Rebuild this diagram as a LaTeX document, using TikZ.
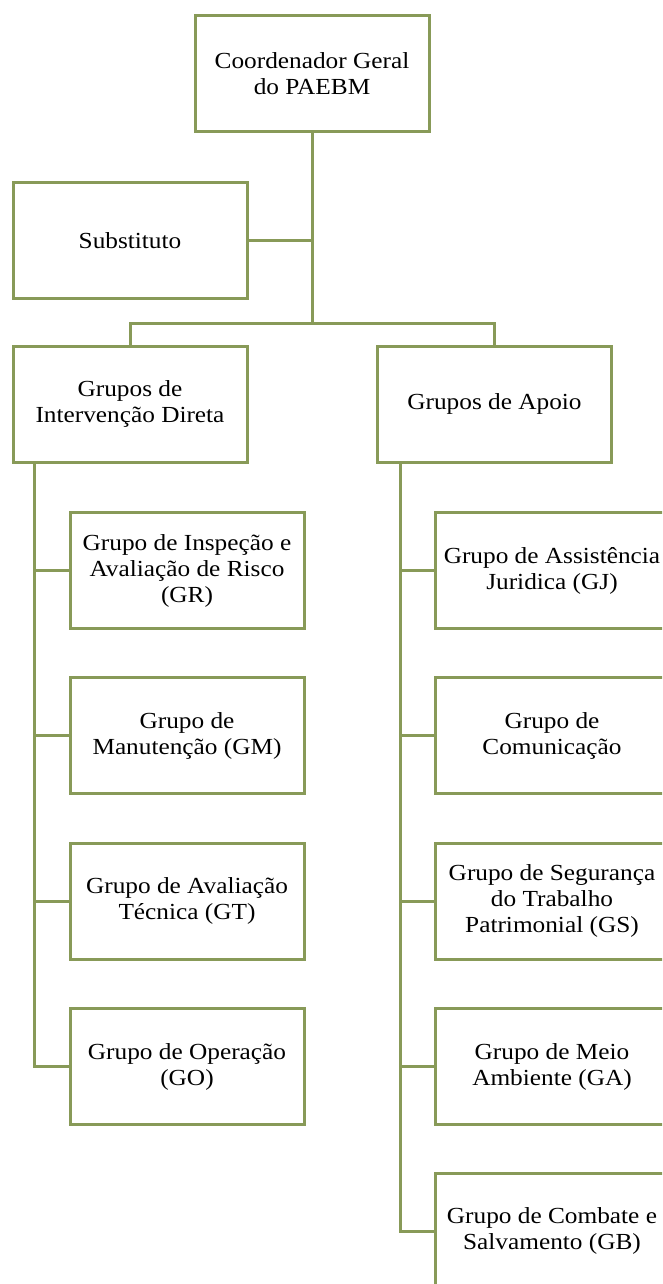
\documentclass[tikz,border=0pt]{standalone}
\usepackage{fontspec}
\setmainfont{Liberation Serif}[FakeStretch=1.1]
\definecolor{olive}{HTML}{889A58}
\begin{document}
\begin{tikzpicture}[x=1pt,y=-1pt,
  box/.style={draw=olive,line width=3pt,fill=white,minimum width=234pt,minimum height=116pt,
    align=center,inner sep=0pt,font=\fontsize{23}{26}\selectfont},
  conn/.style={draw=olive,line width=3pt}]
\clip (0,0) rectangle (662,1284);
\fill[white] (0,0) rectangle (662,1284);
% top level
\node[box] (coord) at (312,74) {Coordenador Geral\\do PAEBM};
\node[box] (subst) at (130,240.5) {Substituto};
\node[box] (gid) at (130,404) {Grupos de\\Intervenção Direta};
\node[box] (gap) at (494.5,404) {Grupos de Apoio};
% left children
\node[box] (gr) at (187,570.5) {Grupo de Inspeção e\\Avaliação de Risco\\(GR)};
\node[box] (gm) at (187,735.5) {Grupo de\\Manutenção (GM)};
\node[box] (gt) at (187,901) {Grupo de Avaliação\\Técnica (GT)};
\node[box] (go) at (187,1066.5) {Grupo de Operação\\(GO)};
% right children
\node[box] (gj) at (552,570.5) {Grupo de Assistência\\Juridica (GJ)};
\node[box] (gc) at (552,735.5) {Grupo de\\Comunicação};
\node[box] (gs) at (552,901) {Grupo de Segurança\\do Trabalho\\Patrimonial (GS)};
\node[box] (ga) at (552,1066.5) {Grupo de Meio\\Ambiente (GA)};
\node[box] (gb) at (552,1231) {Grupo de Combate e\\Salvamento (GB)};
% connectors
\coordinate (j) at (312,323);
\draw[conn] (coord.south) |- (subst.east);
\draw[conn] (coord.south) -- (j);
\draw[conn] (gid.north) |- (j) -| (gap.north);
\coordinate (lt) at ([xshift=23pt]gid.south west);
\coordinate (rt) at ([xshift=24pt]gap.south west);
\draw[conn] (lt) |- (go.west);
\foreach \n in {gr,gm,gt} \draw[conn] (\n.west) -- (\n.west -| lt);
\draw[conn] (rt) |- (gb.west);
\foreach \n in {gj,gc,gs,ga} \draw[conn] (\n.west) -- (\n.west -| rt);
\end{tikzpicture}
\end{document}
